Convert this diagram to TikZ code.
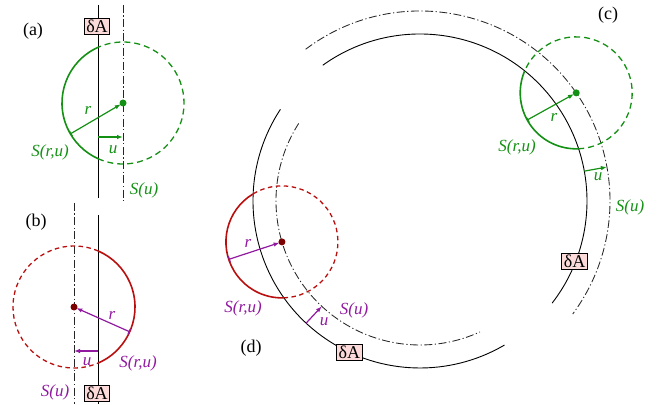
\documentclass[tikz,border=0pt]{standalone}
\usepackage{fontspec}
\setmainfont{Liberation Serif}
\usepackage{tikz}
\usetikzlibrary{arrows.meta,positioning}
\definecolor{sgreen}{RGB}{20,145,20}
\definecolor{sred}{RGB}{185,15,15}
\definecolor{dotred}{RGB}{125,0,0}
\definecolor{spurple}{RGB}{145,25,160}
\definecolor{tagpink}{RGB}{252,218,218}
\tikzset{
  wall/.style={line width=0.9pt},
  shifted/.style={line width=0.85pt, black!85, dash pattern=on 8pt off 2.5pt on 1.2pt off 2.5pt},
  sphere/.style={line width=1.6pt},
  ghost/.style={line width=1.3pt, dash pattern=on 6pt off 4pt},
  rad arrow/.style={line width=1.2pt, shorten >=2.5pt, {Bar[width=6pt]}-{Latex[length=6pt,width=4.5pt]}},
  shift arrow/.style={line width=1.2pt, -{Latex[length=6pt,width=4.5pt]}},
  lab/.style={font=\fontsize{17}{20}\selectfont\itshape},
  tag/.style={draw, line width=0.7pt, fill=tagpink, inner xsep=2pt, inner ysep=1.5pt, font=\fontsize{18}{20}\selectfont}
}

\begin{document}
\begin{tikzpicture}[x=1pt, y=1pt, font=\fontsize{18}{21}\selectfont]
  \useasboundingbox (0,0) rectangle (660,404);
  % (a) flat wall, sphere to the right
  \coordinate (Ca) at (123,301);
  \draw[wall] (98.3,399) -- (98.3,206);
  \draw[shifted] (123,399) -- (123,201);
  \draw[sphere, sgreen] (Ca) ++(114.2:61) arc[start angle=114.2, end angle=245.8, radius=61pt];
  \draw[ghost, sgreen] (Ca) ++(245.8:61) arc[start angle=245.8, end angle=474.2, radius=61pt];
  \fill[sgreen] (Ca) circle[radius=3.5pt];
  \draw[rad arrow, sgreen] (Ca) ++(210.4:61) coordinate (ra) -- (Ca);
  \coordinate (ua1) at (98.3,267); \coordinate (ua2) at (123,267);
  \draw[shift arrow, sgreen] (ua1) -- (ua2);
  \node[tag] (tagA) at (97,378) {δA};
  \node (la) at (33,373) {(a)};
  \node[lab, sgreen] (ra-l) at (88,294) {r};
  \node[lab, sgreen] (ua-l) at (113,254) {u};
  \node[lab, sgreen] (sa-l) at (50,252) {S(r,u)};
  \node[lab, sgreen] (sua-l) at (144,214) {S(u)};

  % (b) flat wall, sphere to the left
  \coordinate (Cb) at (74,97);
  \draw[wall] (98.3,189) -- (98.3,0);
  \draw[shifted] (74,201) -- (74,0);
  \draw[sphere, sred] (Cb) ++(-66.5:61) arc[start angle=-66.5, end angle=66.5, radius=61pt];
  \draw[ghost, sred, dash pattern=on 4.5pt off 3.5pt] (Cb) ++(66.5:61) arc[start angle=66.5, end angle=293.5, radius=61pt];
  \draw[rad arrow, spurple] (Cb) ++(-24:61) coordinate (rb) -- (Cb);
  \fill[dotred] (Cb) circle[radius=3.5pt];
  \coordinate (ub1) at (98.3,53); \coordinate (ub2) at (74,53);
  \draw[shift arrow, spurple] (ub1) -- (ub2);
  \node[tag] (tagB) at (97,11) {δA};
  \node (lb) at (36,182) {(b)};
  \node[lab, spurple] (rb-l) at (112,89) {r};
  \node[lab, spurple] (ub-l) at (87,42) {u};
  \node[lab, spurple] (sb-l) at (138,41) {S(r,u)};
  \node[lab, spurple] (sub-l) at (55,12) {S(u)};

  % (c) and (d) curved wall
  \coordinate (O) at (420,203);
  \draw[wall] (O) ++(125.6:167) arc[start angle=125.6, end angle=-37.7, radius=167pt];
  \draw[wall] (O) ++(146.7:167) arc[start angle=146.7, end angle=300.4, radius=167pt];
  \draw[shifted] (O) ++(127:190) arc[start angle=127, end angle=-36.5, radius=190pt];
  \draw[shifted] (O) ++(147.4:144) arc[start angle=147.4, end angle=294.6, radius=144pt];

  % (c) convex side
  \path (O) ++(34.7:190) coordinate (Cc);
  \draw[sphere, sgreen] (Cc) ++(157.4:56) arc[start angle=157.4, end angle=272, radius=56pt];
  \draw[ghost, sgreen] (Cc) ++(272:56) arc[start angle=272, end angle=517.4, radius=56pt];
  \fill[sgreen] (Cc) circle[radius=3.5pt];
  \draw[rad arrow, sgreen] (Cc) ++(209:56) coordinate (rc) -- (Cc);
  \path (O) ++(10.3:167) coordinate (uc1) (O) ++(10.3:190) coordinate (uc2);
  \draw[shift arrow, sgreen] (uc1) -- (uc2);
  \path (O) ++(-21.4:166) node[tag] (tagC) {δA};
  \node (lc) at (608,389) {(c)};
  \node[lab, sgreen] (rc-l) at (554,287) {r};
  \node[lab, sgreen] (uc-l) at (598,227) {u};
  \node[lab, sgreen] (sc-l) at (517,257) {S(r,u)};
  \node[lab, sgreen] (suc-l) at (630,197) {S(u)};

  % (d) concave side
  \path (O) ++(196.5:144) coordinate (Cd);
  \draw[sphere, sred] (Cd) ++(121.4:56) arc[start angle=121.4, end angle=271.6, radius=56pt];
  \draw[ghost, sred, dash pattern=on 4.5pt off 3.5pt] (Cd) ++(271.6:56) arc[start angle=271.6, end angle=481.4, radius=56pt];
  \draw[rad arrow, spurple] (Cd) ++(198.2:56) coordinate (rd) -- (Cd);
  \fill[dotred] (Cd) circle[radius=3.5pt];
  \path (O) ++(227:167) coordinate (ud1) (O) ++(227:144) coordinate (ud2);
  \draw[shift arrow, spurple] (ud1) -- (ud2);
  \path (O) ++(245:167) node[tag] (tagD) {δA};
  \node (ld) at (251,56) {(d)};
  \node[lab, spurple] (rd-l) at (248,161) {r};
  \node[lab, spurple] (ud-l) at (324,82) {u};
  \node[lab, spurple] (sd-l) at (243,96) {S(r,u)};
  \node[lab, spurple] (sud-l) at (354,94) {S(u)};
\end{tikzpicture}
\end{document}
